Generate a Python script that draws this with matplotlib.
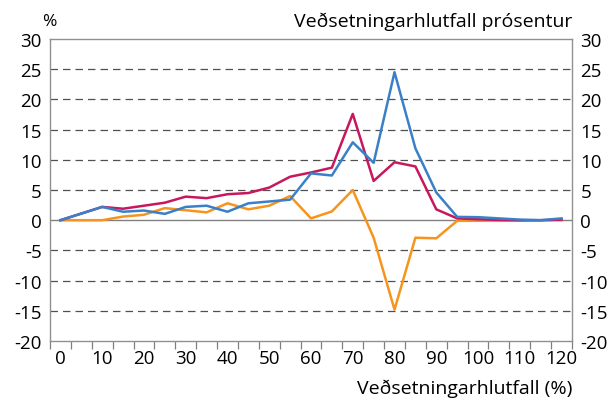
import numpy as np
import matplotlib
matplotlib.use("Agg")
import matplotlib.pyplot as plt

plt.rcParams["font.family"] = ["Open Sans", "DejaVu Sans"]
plt.rcParams["axes.unicode_minus"] = False

# Veðsetningarhlutfall categories (%)
ltv = list(range(0, 125, 5))

rauð = [0, 1.1, 2.2, 1.9, 2.4, 2.9, 3.9, 3.65, 4.3, 4.5, 5.4, 7.2, 7.9, 8.7,
        17.6, 6.5, 9.6, 8.9, 1.8, 0.3, 0.15, 0.05, 0.0, 0.0, 0.1]
blá = [0, 1.1, 2.2, 1.4, 1.6, 1.05, 2.2, 2.4, 1.4, 2.8, 3.1, 3.4, 7.75, 7.4,
       12.9, 9.5, 24.5, 11.9, 4.6, 0.55, 0.5, 0.3, 0.1, 0.0, 0.3]
appelsínugul = [0, 0, 0, 0.6, 0.9, 2.0, 1.65, 1.3, 2.8, 1.8, 2.4, 4.0, 0.3, 1.45,
                5.0, -2.9, -14.8, -2.9, -3.0, -0.1, -0.1, -0.1, -0.1, 0.0, 0.0]

yticks = list(range(-20, 35, 5))

fig = plt.figure(figsize=(6.13, 4.06), dpi=100)
ax = fig.add_axes([50 / 613, 1 - 342 / 406, 522 / 613, 302 / 406])

x = np.arange(len(ltv))
ax.plot(x, appelsínugul, color="#F7941D", lw=1.8, zorder=3)
ax.plot(x, rauð, color="#C8175D", lw=1.8, zorder=4)
ax.plot(x, blá, color="#3A80C8", lw=1.8, zorder=5)

ax.set_xlim(-0.5, len(ltv) - 0.5)
ax.set_ylim(-20, 30)

for v in yticks:
    if v == 0:
        ax.axhline(0, color="#808080", lw=1.0, zorder=2)
    elif -20 < v < 30:
        ax.axhline(v, color="#505050", lw=0.9, ls=(0, (6, 4)), zorder=1)

ax.set_xticks(x[::2])
ax.set_xticklabels([str(v) for v in ltv[::2]])
ax.set_xticks(np.arange(-0.5, len(ltv), 1), minor=True)
ax.tick_params(axis="x", which="major", length=0, labelsize=13.5, pad=6)
ax.tick_params(axis="x", which="minor", length=6, color="#808080", width=0.9)

ax.set_yticks(yticks)
ax.tick_params(axis="y", length=0, labelsize=13.5, pad=6)

for s in ax.spines.values():
    s.set_color("#909090")
    s.set_linewidth(1.0)

ax2 = ax.twinx()
ax2.set_ylim(-20, 30)
ax2.set_yticks(yticks)
ax2.tick_params(axis="y", length=0, labelsize=13.5, pad=6)
for s in ax2.spines.values():
    s.set_visible(False)

fig.text(49 / 613, 1 - 22 / 406, "%", fontsize=12.5, ha="center", va="center")
fig.text(572 / 613, 1 - 22 / 406, "Veðsetningarhlutfall prósentur", fontsize=14,
         ha="right", va="center")
fig.text(572 / 613, 1 - 389 / 406, "Veðsetningarhlutfall (%)", fontsize=14,
         ha="right", va="center")

fig.savefig("out.png", dpi=100)
